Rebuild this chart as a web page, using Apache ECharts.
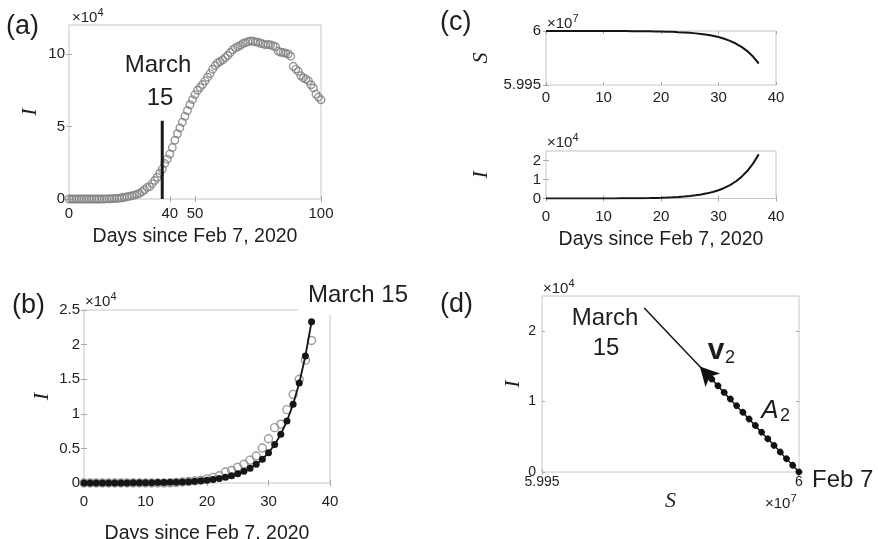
<!DOCTYPE html>
<html><head><meta charset="utf-8">
<script src="https://cdn.jsdelivr.net/npm/echarts@6/dist/echarts.min.js"></script>
<style>html,body{margin:0;padding:0;background:#fff}#c{width:878px;height:539px}</style>
</head><body><div id="c"></div>
<script>
// ---------- DATA ----------
// (a) observed active cases I (x10^4), days 0..100 since Feb 7, 2020
const activeCases = [
  0.0003,0.0003,0.0003,0.0003,0.0003,0.0003,0.0003,0.0003,0.0003,0.0003,
  0.0003,0.0003,0.0003,0.0003,0.002,0.008,0.015,0.022,0.031,0.039,
  0.059,0.082,0.105,0.158,0.18,0.226,0.27,0.33,0.39,0.506,
  0.639,0.80,0.85,1.06,1.28,1.50,1.775,2.06,
  2.45,2.75,3.1,3.55,4.05,4.5,4.9,5.3,5.7,6.1,
  6.5,6.85,7.2,7.5,7.7,7.9,8.15,8.4,8.65,8.95,
  9.2,9.38,9.48,9.6,9.75,9.9,10.1,10.3,10.42,10.5,
  10.6,10.72,10.78,10.85,10.9,10.88,10.83,10.82,10.74,10.7,
  10.63,10.66,10.62,10.56,10.5,10.2,10.12,10.1,10.05,10.0,
  9.85,9.15,8.96,8.8,8.5,8.35,8.27,8.15,7.88,7.66,
  7.23,7.03,6.84
];
// (b) observed data up to March 15 (day 37)
const observedToMarch15 = activeCases.slice(0, 38);
// model I (x10^4), days 0..37
const modelI = [0.0003,0.0004,0.0005,0.0007,0.0009,0.0011,0.0014,0.0018,0.0023,0.0029,
  0.0037,0.0047,0.0059,0.0075,0.0096,0.0121,0.0154,0.0196,0.0249,0.0316,
  0.0401,0.0509,0.0646,0.0821,0.1043,0.1324,0.168,0.2136,0.271,0.344,
  0.437,0.555,0.705,0.896,1.138,1.445,1.835,2.33];
// model S (x10^7), days 0..37
const modelS = [6,6,6,6,6,6,6,6,6,6,
  5.99999,5.99999,5.99999,5.99999,5.99999,5.99998,5.99998,5.99997,5.99997,5.99996,
  5.99995,5.99993,5.99992,5.99989,5.99987,5.99983,5.99978,5.99972,5.99965,5.99956,
  5.99944,5.99928,5.99909,5.99884,5.99853,5.99814,5.99763,5.99699];
// March 15 marker in (a)
const march15X = [37, 37];
const march15Y = [0, 5.4];
// eigen-direction A2 / v2 in (d): from Feb 7 point to arrow head
const a2S = [6.0, 5.99807];
const a2I = [0, 1.5];
// tick values
const ticksAx = [0, 40, 50, 100];
const ticksAy = [0, 5, 10];
const ticksDays = [0, 10, 20, 30, 40];
const ticksBy = [0, 0.5, 1, 1.5, 2, 2.5];
const ticksS = [5.995, 6];
const ticksI = [0, 1, 2];

// ---------- HELPERS ----------
const SANS = 'Liberation Sans, Arial, sans-serif';
const SERIF = 'Liberation Serif, Times New Roman, serif';
const TXT = '#1e1e1e', BOX = '#c6c6c6', TICK = '#a8a8a8';
const idx = arr => arr.map((v, i) => [i, v]);

function xAx(g, min, max, ticks, o) {
  o = o || {};
  return {
    type: 'value', gridIndex: g, min: min, max: max, position: 'bottom',
    axisLine: {show: false}, splitLine: {show: false},
    axisTick: {show: true, inside: true, length: 3, customValues: ticks, lineStyle: {color: TICK}},
    axisLabel: {show: true, customValues: ticks, margin: o.margin || 6, color: TXT,
      fontSize: o.fs || 15, fontFamily: SANS, formatter: o.fmt},
    name: o.name || '', nameLocation: 'middle', nameGap: o.gap || 30,
    nameTextStyle: o.nameStyle || {fontSize: 19.5, color: TXT, fontFamily: SANS}
  };
}
function xMirror(g, min, max, ticks) {
  return {type: 'value', gridIndex: g, min: min, max: max, position: 'top',
    axisLine: {show: false}, splitLine: {show: false}, axisLabel: {show: false},
    axisTick: {show: true, inside: true, length: 3, customValues: ticks, lineStyle: {color: TICK}}};
}
function yAx(g, min, max, ticks, o) {
  o = o || {};
  return {
    type: 'value', gridIndex: g, min: min, max: max, position: 'left',
    axisLine: {show: false}, splitLine: {show: false},
    axisTick: {show: true, inside: true, length: 3, customValues: ticks, lineStyle: {color: TICK}},
    axisLabel: {show: true, customValues: ticks, margin: o.margin || 4, color: TXT,
      fontSize: o.fs || 15, fontFamily: SANS, formatter: o.fmt},
    name: o.name || '', nameLocation: 'middle', nameGap: o.gap || 30, nameRotate: 90,
    nameTextStyle: {fontSize: 22, color: TXT, fontFamily: SERIF, fontStyle: 'italic'}
  };
}
function yMirror(g, min, max, ticks) {
  return {type: 'value', gridIndex: g, min: min, max: max, position: 'right',
    axisLine: {show: false}, splitLine: {show: false}, axisLabel: {show: false},
    axisTick: {show: true, inside: true, length: 3, customValues: ticks, lineStyle: {color: TICK}}};
}
const gridBase = {show: true, borderColor: BOX, borderWidth: 1, backgroundColor: 'rgba(0,0,0,0)',
  containLabel: false, outerBoundsMode: 'none'};
function txt(text, x, y, size, o) {
  o = o || {};
  return {type: 'text', x: x, y: y, z: 20, silent: true,
    style: {text: text, fill: TXT, fontSize: size, fontFamily: o.family || SANS,
      fontWeight: o.weight || 'normal', fontStyle: o.style || 'normal',
      textAlign: o.align || 'center', textVerticalAlign: 'middle',
      align: o.align || 'center', verticalAlign: 'middle'}};
}
// "×10^n" multiplier label as base text plus raised exponent
function sci(x, y, exp) {
  return [txt('×10', x, y, 15, {align: 'left'}), txt(exp, x + 25.5, y - 5, 11, {align: 'left'})];
}
const dayName = 'Days since Feb 7, 2020';
const sciFmt = v => (Math.abs(v - 6) < 1e-9 ? '6' : v.toFixed(3));

const option = {
  animation: false,
  backgroundColor: '#fff',
  grid: [
    Object.assign({left: 69, top: 25, width: 252, height: 174}, gridBase),
    Object.assign({left: 84, top: 310, width: 246, height: 173}, gridBase),
    Object.assign({left: 546, top: 31, width: 230, height: 54}, gridBase),
    Object.assign({left: 546, top: 151, width: 230, height: 47.5}, gridBase),
    Object.assign({left: 542, top: 296, width: 257, height: 176}, gridBase)
  ],
  xAxis: [
    xAx(0, 0, 100, ticksAx, {margin: 7, name: dayName, gap: 28}),
    xMirror(0, 0, 100, ticksAx),
    xAx(1, 0, 40, ticksDays, {margin: 11, name: dayName, gap: 41}),
    xMirror(1, 0, 40, ticksDays),
    xAx(2, 0, 40, ticksDays, {margin: 5}),
    xMirror(2, 0, 40, ticksDays),
    xAx(3, 0, 40, ticksDays, {margin: 11, name: dayName, gap: 31}),
    xMirror(3, 0, 40, ticksDays),
    xAx(4, 5.995, 6, ticksS, {margin: 3, fs: 14, fmt: sciFmt, name: 'S', gap: 17,
      nameStyle: {fontSize: 22, color: TXT, fontFamily: SERIF, fontStyle: 'italic'}}),
    xMirror(4, 5.995, 6, ticksS)
  ],
  yAxis: [
    yAx(0, 0, 12, ticksAy, {name: 'I', gap: 28}),
    yMirror(0, 0, 12, ticksAy),
    yAx(1, 0, 2.5, ticksBy, {name: 'I', gap: 31}),
    yMirror(1, 0, 2.5, ticksBy),
    yAx(2, 5.995, 6, ticksS, {margin: 5, fmt: sciFmt, name: 'S', gap: 54}),
    yMirror(2, 5.995, 6, ticksS),
    yAx(3, 0, 2.5, ticksI, {margin: 5, name: 'I', gap: 54}),
    yMirror(3, 0, 2.5, ticksI),
    yAx(4, 0, 2.5, ticksI, {margin: 6, fs: 14, name: 'I', gap: 16}),
    yMirror(4, 0, 2.5, ticksI)
  ],
  series: [
    {type: 'scatter', xAxisIndex: 0, yAxisIndex: 0, data: idx(activeCases),
      symbol: 'circle', symbolSize: 7.5, silent: true,
      itemStyle: {color: 'rgba(255,255,255,0)', borderColor: '#7d7d7d', borderWidth: 1.4}},
    {type: 'line', xAxisIndex: 0, yAxisIndex: 0, data: march15X.map((x, i) => [x, march15Y[i]]),
      symbol: 'none', silent: true, lineStyle: {color: '#1a1a1a', width: 3}},
    {type: 'scatter', xAxisIndex: 2, yAxisIndex: 2, data: idx(observedToMarch15),
      symbol: 'circle', symbolSize: 8, silent: true,
      itemStyle: {color: 'rgba(255,255,255,0)', borderColor: '#858585', borderWidth: 1.4}},
    {type: 'line', xAxisIndex: 2, yAxisIndex: 2, data: idx(modelI),
      symbol: 'circle', symbolSize: 7, showAllSymbol: true, silent: true,
      itemStyle: {color: '#161616'}, lineStyle: {color: '#161616', width: 1.8}},
    {type: 'line', xAxisIndex: 4, yAxisIndex: 4, data: idx(modelS),
      symbol: 'none', silent: true, lineStyle: {color: '#161616', width: 2}},
    {type: 'line', xAxisIndex: 6, yAxisIndex: 6, data: idx(modelI),
      symbol: 'none', silent: true, lineStyle: {color: '#161616', width: 2}},
    {type: 'line', xAxisIndex: 8, yAxisIndex: 8, data: modelS.map((s, i) => [s, modelI[i]]),
      symbol: 'none', silent: true, lineStyle: {color: '#161616', width: 1.5}},
    {type: 'line', xAxisIndex: 8, yAxisIndex: 8, data: [], silent: true,
      markLine: {silent: true, animation: false, symbol: ['none', 'arrow'], symbolSize: [15, 19],
        label: {show: false},
        lineStyle: {color: '#111', width: 6.5, type: [0.1, 9], cap: 'round'},
        emphasis: {disabled: true},
        data: [[{coord: [a2S[0], a2I[0]]}, {coord: [a2S[1], a2I[1]]}]]}}
  ],
  graphic: [].concat(
    [txt('(a)', 6, 27, 27, {align: 'left'}),
     txt('(b)', 12, 306, 27, {align: 'left'}),
     txt('(c)', 440, 23, 27, {align: 'left'}),
     txt('(d)', 440, 305, 27, {align: 'left'})],
    sci(72, 18, '4'), sci(85, 302, '4'), sci(547, 24, '7'), sci(547, 143, '4'),
    sci(543, 289, '4'), sci(765, 504, '7'),
    [txt('March', 158, 65, 24),
     txt('15', 160, 98, 24),
     {type: 'rect', z: 19, silent: true, shape: {x: 298, y: 279, width: 125, height: 36}, style: {fill: '#fff'}},
     txt('March 15', 358, 295, 24),
     txt('March', 605, 318, 24),
     txt('15', 606, 348, 24),
     txt('v', 716, 351, 30, {weight: 'bold'}),
     txt('2', 725, 358, 18, {align: 'left'}),
     txt('A', 770, 411, 26, {style: 'italic'}),
     txt('2', 780, 416, 18, {align: 'left'}),
     txt('Feb 7', 812, 480, 24, {align: 'left'})]
  )
};
const chart = echarts.init(document.getElementById('c'), null, {renderer: 'canvas'});
chart.setOption(option);
</script></body></html>
